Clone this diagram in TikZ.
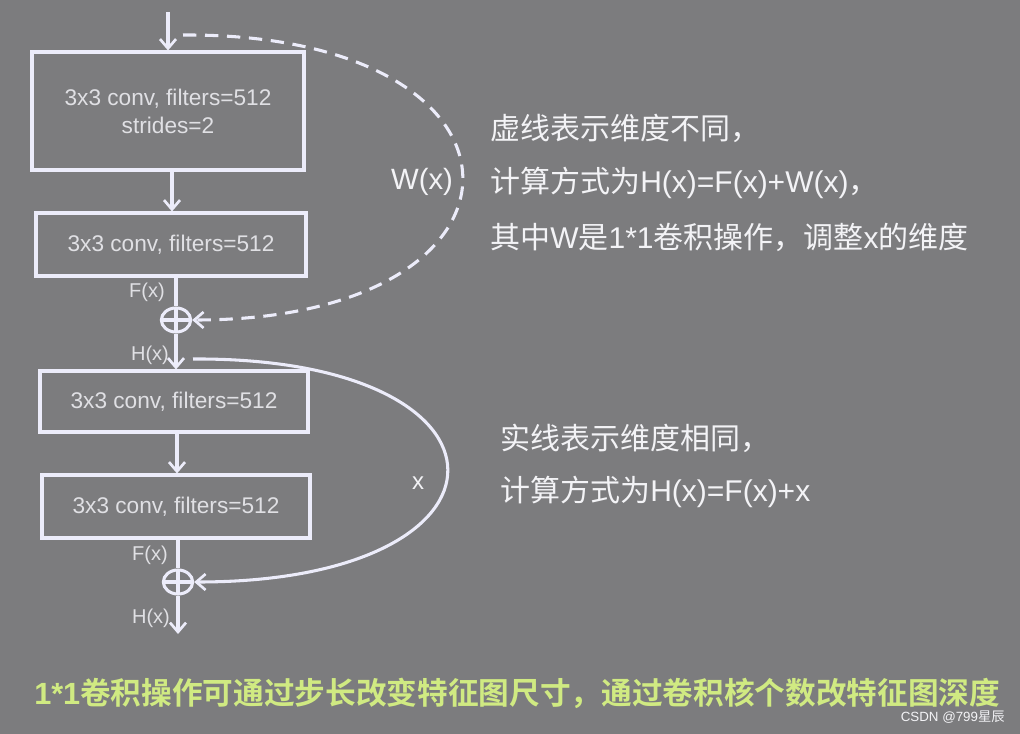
\documentclass[tikz,border=0pt]{standalone}
\usepackage{fontspec}
\setmainfont{Liberation Sans}
\newfontfamily\cjk{Noto Sans CJK SC}
\newfontfamily\cjkb{Noto Sans CJK SC Bold}
\usetikzlibrary{arrows.meta,shapes.geometric}
\definecolor{bg}{RGB}{124,124,126}
\definecolor{ln}{RGB}{236,236,250}
\definecolor{tx}{RGB}{224,224,228}
\definecolor{wt}{RGB}{243,243,246}
\definecolor{yg}{RGB}{208,234,130}
\begin{document}
\begin{tikzpicture}[x=0.75pt,y=-0.75pt,
  box/.style={draw=ln, line width=2.3pt, text=tx, font=\fontsize{17}{21}\selectfont, align=center, inner sep=0pt},
  conn/.style={draw=ln, line width=2.3pt},
  arr/.style={conn, -{Straight Barb[length=7pt,width=12pt,line width=2pt]}},
  dsh/.style={arr, dash pattern=on 10pt off 6.5pt},
  plus/.style={ellipse, draw=ln, line width=2.3pt, minimum width=22pt, minimum height=18pt, inner sep=0pt,
    path picture={\draw[ln, line width=2.3pt] (path picture bounding box.north) -- (path picture bounding box.south)
      (path picture bounding box.west) -- (path picture bounding box.east);}},
  lab/.style={text=tx, font=\fontsize{15}{17}\selectfont, inner sep=0pt},
  big/.style={text=wt, font=\fontsize{22}{26}\selectfont, inner sep=0pt},
  rtext/.style={text=wt, font=\fontsize{22.5}{26}\selectfont, anchor=west, inner sep=0pt}
]
\useasboundingbox (0,0) rectangle (1020,734);
\fill[bg] (0,0) rectangle (1020,734);

% boxes
\node[box, minimum width=204pt, minimum height=88.5pt] (b1) at (168,111) {3x3 conv, filters=512\\strides=2};
\node[box, minimum width=202.5pt, minimum height=47.25pt] (b2) at (171,244.5) {3x3 conv, filters=512};
\node[box, minimum width=201pt, minimum height=45.75pt] (b3) at (174,401.5) {3x3 conv, filters=512};
\node[box, minimum width=201pt, minimum height=47.25pt] (b4) at (176,506.5) {3x3 conv, filters=512};

\node[plus] (p1) at (176,320) {};
\node[plus] (p2) at (178,582) {};

\coordinate (in) at (168,12);
\coordinate (out) at (178,634);
\coordinate (ds) at (183,35);
\coordinate (ss) at (193,359);

% main flow
\draw[arr] (in) -- (b1.north);
\draw[arr] (b1.south -| 172,0) -- (b2.north -| 172,0);
\draw[conn] (b2.south -| p1) -- (p1.north);
\draw[arr] (p1.south) -- (p1.south |- b3.north);
\draw[arr] (b3.south -| 177,0) -- (b4.north -| 177,0);
\draw[conn] (b4.south -| p2) -- (p2.north);
\draw[arr] (p2.south) -- (out);

% shortcuts
\draw[dsh] (ds) .. controls (554,33) and (554,320) .. (p1.east);
\draw[arr] (ss) .. controls (532,357) and (532,582) .. (p2.east);

% labels
\node[lab] (f1) at (147,292) {F(x)};
\node[lab] (h1) at (150,355) {H(x)};
\node[lab] (f2) at (150,555) {F(x)};
\node[lab] (h2) at (151,618) {H(x)};
\node[big] (wx) at (422,182) {W(x)};
\node[text=wt, font=\fontsize{18}{20}\selectfont, inner sep=0pt] (xx) at (418,483) {x};

% right texts
\node[rtext] (t1) at (490,128) {{\cjk 虚线表示维度不同，}};
\node[rtext] (t2) at (490,183) {{\cjk 计算方式为}H(x)=F(x)+W(x){\cjk ，}};
\node[rtext] (t3) at (490,237) {{\cjk 其中}W{\cjk 是}1*1{\cjk 卷积操作，调整}x{\cjk 的维度}};
\node[rtext] (t4) at (500,438) {{\cjk 实线表示维度相同，}};
\node[rtext] (t5) at (500,492) {{\cjk 计算方式为}H(x)=F(x)+x};

% bottom
\node[text=yg, font=\fontsize{23}{26}\selectfont, anchor=west, inner sep=0pt] (bt) at (34,693)
  {\textbf{1*1}{\cjkb 卷积操作可通过步长改变特征图尺寸，通过卷积核个数改特征图深度}};
\node[text=wt, font=\fontsize{10}{12}\selectfont, anchor=east, inner sep=0pt] (wm) at (1005,717) {CSDN @799{\cjk 星辰}};
\end{tikzpicture}
\end{document}
